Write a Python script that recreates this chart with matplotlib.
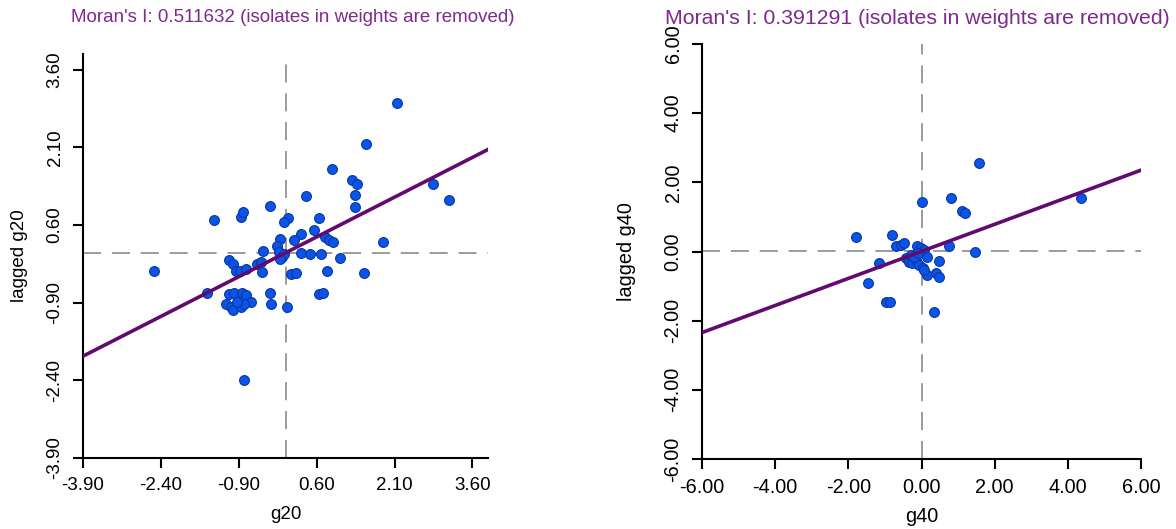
import numpy as np
import matplotlib
matplotlib.use("Agg")
import matplotlib.pyplot as plt

plt.rcParams['font.family'] = ['Liberation Sans', 'DejaVu Sans']

# left panel: g20 against its spatial lag
g20 = [2.14, 1.55, 0.90, 1.28, 1.37, 1.34, 1.34, 2.84, 3.15, 0.40,
       0.64, 0.54, 0.30, 0.16, 0.77, 0.84, 0.91, 1.04, 1.88, 0.29,
       0.48, 0.68, 0.79, 1.51, 0.10, 0.21, 0.04, -0.02,
       -0.30, -1.37, -0.85, -0.81, -0.10, -0.16, -0.43, -0.13,
       -0.06, -0.03, -0.10, -1.09, -1.02, -0.96, -0.87, -0.77, -0.54, -0.48,
       -0.45, -2.53, -1.52, -1.09, -0.99, -0.83, -0.77, -1.15, -1.05, -1.02,
       -0.86, -0.67, -0.80, -0.93, -0.30, -0.27, 0.02, -0.80, 0.65, 0.72]
lag_g20 = [2.96, 2.16, 1.68, 1.47, 1.39, 1.18, 0.94, 1.39, 1.08, 1.15,
           0.74, 0.51, 0.42, 0.30, 0.36, 0.31, 0.27, -0.04, 0.27, 0.06,
           0.03, 0.03, -0.29, -0.33, -0.35, -0.32, 0.74, 0.65,
           0.97, 0.70, 0.76, 0.84, 0.33, 0.20, 0.10, 0.08,
           -0.02, 0.03, -0.05, -0.08, -0.15, -0.28, -0.28, -0.26, -0.15, -0.12,
           -0.31, -0.29, -0.71, -0.74, -0.72, -0.71, -0.76, -0.92, -0.98, -1.05,
           -0.98, -0.89, -0.92, -0.89, -0.71, -0.92, -0.98, -2.40, -0.74, -0.71]
moran_g20 = 0.511632
ticks_g20 = [-3.9, -2.4, -0.9, 0.6, 2.1, 3.6]
lim_g20 = (-3.9, 3.9)

# right panel: g40 against its spatial lag
g40 = [1.56, 0.01, 0.82, 1.12, 1.19, 4.35, -1.78, -0.82, -0.70, -0.57,
       -0.47, -0.11, -0.02, 0.07, 0.76, 1.46, -1.17, 0.16, 0.48, 0.16,
       0.39, 0.48, -1.45, -0.98, -0.87, 0.33,
       -0.43, -0.34, -0.25, -0.16, -0.06, 0.03, 0.07, -0.30, -0.20, -0.10]
lag_g40 = [2.55, 1.44, 1.54, 1.18, 1.12, 1.54, 0.43, 0.48, 0.16, 0.19,
           0.24, 0.16, 0.09, 0.04, 0.16, 0.00, -0.32, -0.17, -0.27, -0.68,
           -0.61, -0.75, -0.92, -1.45, -1.45, -1.76,
           -0.20, -0.29, -0.34, -0.25, -0.39, -0.49, -0.53, -0.10, -0.15, -0.05]
moran_g40 = 0.391291
ticks_g40 = [-6, -4, -2, 0, 2, 4, 6]
lim_g40 = (-6, 6)

title_color = "#7d2a8c"
line_color = "#620a70"

fig = plt.figure(figsize=(11.76, 5.29), dpi=100)
W, H = 1176, 529


def box(x0, y0, x1, y1):
    # pixel box -> figure fraction
    return [x0 / W, 1 - y1 / H, (x1 - x0) / W, (y1 - y0) / H]


def moran_plot(ax, x, y, moran, ticks, lim, name, ylab_x, xlab_y, fs):
    # x is standardized (mean 0); the lag keeps its own mean
    my = np.mean(y)
    ax.axvline(0, color="#939393", lw=1.3, ls=(0, (10, 6)), zorder=1)
    ax.axhline(my, color="#939393", lw=1.3, ls=(0, (10, 6)), zorder=1)
    ax.scatter(x, y, s=50, color="#0b55e6", edgecolor="#0a35a8",
               linewidth=0.8, zorder=2)
    xs = np.array(lim)
    ax.plot(xs, my + moran * xs, color=line_color, lw=2.6, zorder=3)
    ax.set_xlim(lim)
    ax.set_ylim(lim)
    ax.set_xticks(ticks)
    ax.set_yticks(ticks)
    ax.set_xticklabels(["%.2f" % t for t in ticks])
    ax.set_yticklabels(["%.2f" % t for t in ticks], rotation=90, va="center")
    for s in ["top", "right"]:
        ax.spines[s].set_visible(False)
    for s in ["left", "bottom"]:
        ax.spines[s].set_linewidth(1.5)
    ax.tick_params(length=7, width=1.5, labelsize=fs, pad=7)
    ax.set_xlabel(name, fontsize=fs)
    ax.set_ylabel("lagged " + name, fontsize=fs)
    ax.yaxis.set_label_coords(ylab_x, 0.5)
    ax.xaxis.set_label_coords(0.5, xlab_y)


ax1 = fig.add_axes(box(83, 54, 488, 458))
moran_plot(ax1, g20, lag_g20, moran_g20, ticks_g20, lim_g20, "g20",
           -0.135, -0.12, 13.5)
fig.text(293 / W, 1 - 18 / H,
         "Moran's I: %.6f (isolates in weights are removed)" % moran_g20,
         color=title_color, fontsize=13.5, ha="center", va="center")

ax2 = fig.add_axes(box(702, 44, 1141, 459))
moran_plot(ax2, g40, lag_g40, moran_g40, ticks_g40, lim_g40, "g40",
           -0.15, -0.115, 14.3)
fig.text(917 / W, 1 - 18 / H,
         "Moran's I: %.6f (isolates in weights are removed)" % moran_g40,
         color=title_color, fontsize=15.3, ha="center", va="center")

fig.savefig("out.png", dpi=100)
